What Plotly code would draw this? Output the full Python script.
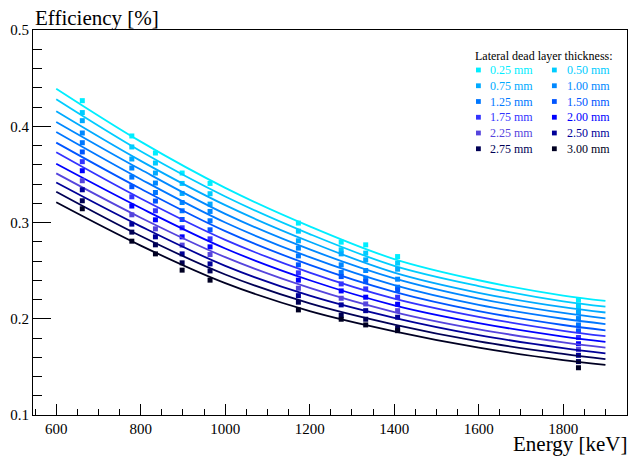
import plotly.graph_objects as go

# Gamma-line energies of the calibration sources [keV]
energies = [661.7, 778.9, 834.8, 898.0, 964.1, 1173.2, 1274.5, 1332.5, 1408.0, 1836.1]

# Lateral dead layer thickness values [mm]
thickness = ["0.25", "0.50", "0.75", "1.00", "1.25", "1.50",
             "1.75", "2.00", "2.25", "2.50", "2.75", "3.00"]

# Simulated full-energy-peak efficiencies, one list per thickness
eff_0p25 = [0.4266, 0.3899, 0.3722, 0.3514, 0.3406, 0.2994, 0.2796, 0.2768, 0.2646, 0.2193]
eff_0p50 = [0.4142, 0.3785, 0.3618, 0.3406, 0.3299, 0.2910, 0.2716, 0.2682, 0.2578, 0.2128]
eff_0p75 = [0.4058, 0.3660, 0.3514, 0.3302, 0.3191, 0.2810, 0.2674, 0.2612, 0.2515, 0.2068]
eff_1p00 = [0.3930, 0.3566, 0.3410, 0.3208, 0.3115, 0.2734, 0.2560, 0.2501, 0.2411, 0.2002]
eff_1p25 = [0.3829, 0.3472, 0.3312, 0.3122, 0.3018, 0.2653, 0.2480, 0.2421, 0.2328, 0.1936]
eff_1p50 = [0.3733, 0.3372, 0.3223, 0.3031, 0.2924, 0.2560, 0.2438, 0.2386, 0.2300, 0.1875]
eff_1p75 = [0.3632, 0.3267, 0.3122, 0.2945, 0.2830, 0.2477, 0.2362, 0.2310, 0.2224, 0.1805]
eff_2p00 = [0.3538, 0.3171, 0.3028, 0.2851, 0.2747, 0.2401, 0.2289, 0.2224, 0.2151, 0.1740]
eff_2p25 = [0.3434, 0.3080, 0.2934, 0.2765, 0.2667, 0.2317, 0.2213, 0.2154, 0.2084, 0.1680]
eff_2p50 = [0.3340, 0.2983, 0.2851, 0.2674, 0.2570, 0.2240, 0.2144, 0.2084, 0.2016, 0.1620]
eff_2p75 = [0.3226, 0.2900, 0.2768, 0.2581, 0.2497, 0.2172, 0.2036, 0.1995, 0.1901, 0.1555]
eff_3p00 = [0.3143, 0.2806, 0.2674, 0.2505, 0.2401, 0.2092, 0.1995, 0.1936, 0.1876, 0.1491]

# Fitted efficiency curves sampled along the energy range
fit_energy = [600, 800, 1000, 1200, 1400, 1600, 1800, 1900]
fit_0p25 = [0.439, 0.384, 0.336, 0.296, 0.262, 0.240, 0.224, 0.2185]
fit_0p50 = [0.428, 0.374, 0.327, 0.288, 0.255, 0.234, 0.218, 0.2125]
fit_0p75 = [0.4155, 0.364, 0.318, 0.280, 0.248, 0.227, 0.212, 0.2065]
fit_1p00 = [0.4045, 0.355, 0.309, 0.272, 0.242, 0.221, 0.206, 0.2005]
fit_1p25 = [0.394, 0.345, 0.300, 0.264, 0.235, 0.2145, 0.200, 0.1945]
fit_1p50 = [0.383, 0.335, 0.291, 0.256, 0.228, 0.208, 0.1935, 0.188]
fit_1p75 = [0.373, 0.325, 0.282, 0.248, 0.221, 0.202, 0.1875, 0.182]
fit_2p00 = [0.361, 0.315, 0.273, 0.240, 0.214, 0.1955, 0.1815, 0.176]
fit_2p25 = [0.351, 0.305, 0.264, 0.232, 0.207, 0.189, 0.1755, 0.170]
fit_2p50 = [0.3415, 0.296, 0.255, 0.224, 0.201, 0.183, 0.1695, 0.164]
fit_2p75 = [0.332, 0.286, 0.246, 0.216, 0.194, 0.1765, 0.1635, 0.158]
fit_3p00 = [0.321, 0.276, 0.237, 0.208, 0.187, 0.170, 0.157, 0.152]

colors = ["#00eeff", "#00ccff", "#00aaff", "#0088ff", "#0077ff", "#0055ff",
          "#3333ff", "#0000ff", "#5544dd", "#000099", "#000055", "#000022"]

points = [eff_0p25, eff_0p50, eff_0p75, eff_1p00, eff_1p25, eff_1p50,
          eff_1p75, eff_2p00, eff_2p25, eff_2p50, eff_2p75, eff_3p00]
fits = [fit_0p25, fit_0p50, fit_0p75, fit_1p00, fit_1p25, fit_1p50,
        fit_1p75, fit_2p00, fit_2p25, fit_2p50, fit_2p75, fit_3p00]

FONT = "Liberation Serif"

fig = go.Figure()
for th, col, pts, fit in zip(thickness, colors, points, fits):
    fig.add_trace(go.Scatter(
        x=fit_energy, y=fit, mode="lines",
        line=dict(color=col, width=1.8, shape="spline", smoothing=1.0),
        showlegend=False, hoverinfo="skip"))
    fig.add_trace(go.Scatter(
        x=energies, y=pts, mode="markers", name=th + " mm",
        marker=dict(symbol="square", size=5, color=col, line=dict(width=0)),
        showlegend=False))

# Two-column legend box in the upper right corner
annotations = [dict(
    text="Lateral dead layer thickness:", xref="paper", yref="paper",
    x=0.741, y=0.932, xanchor="left", yanchor="middle", showarrow=False,
    font=dict(family=FONT, size=12, color="black"))]
shapes = []
W, H = 594.5, 385.0  # plot area size in pixels
for i, (th, col) in enumerate(zip(thickness, colors)):
    row, c = divmod(i, 2)
    ypx = 70 + row * 15.75
    yp = 1 - (ypx - 30) / H
    mx = [478.3, 554.3][c]
    tx = [488.0, 564.5][c]
    xp_m = (mx - 32.5) / W
    shapes.append(dict(type="rect", xref="paper", yref="paper",
                       x0=xp_m - 2.4 / W, x1=xp_m + 2.4 / W,
                       y0=yp - 2.4 / H, y1=yp + 2.4 / H,
                       fillcolor=col, line=dict(width=0)))
    annotations.append(dict(
        text=th + " mm", xref="paper", yref="paper",
        x=(tx - 32.5) / W, y=yp, xanchor="left", yanchor="middle",
        showarrow=False, font=dict(family=FONT, size=12, color=col)))

# Axis titles placed at the axis ends
annotations.append(dict(
    text="Efficiency [%]", xref="paper", yref="paper", x=0.0, y=1.0,
    xanchor="left", yanchor="bottom", yshift=-2, showarrow=False,
    font=dict(family=FONT, size=21, color="black")))
annotations.append(dict(
    text="Energy [keV]", xref="paper", yref="paper", x=1.0, y=0.0,
    xanchor="right", yanchor="top", yshift=-15, xshift=3, showarrow=False,
    font=dict(family=FONT, size=21, color="black")))

fig.update_layout(
    width=632, height=459,
    margin=dict(l=32.5, r=5, t=30, b=44),
    plot_bgcolor="white", paper_bgcolor="white",
    font=dict(family=FONT, size=15, color="black"),
    shapes=shapes, annotations=annotations,
    xaxis=dict(range=[545, 1951], showgrid=False, zeroline=False,
               showline=True, linecolor="black", linewidth=1, mirror=True,
               ticks="inside", ticklen=11.5, tickcolor="black",
               dtick=200, tick0=0, tickfont=dict(family=FONT, size=15),
               minor=dict(ticks="inside", ticklen=5.8, dtick=50,
                          tickcolor="black", showgrid=False)),
    yaxis=dict(range=[0.1, 0.5], showgrid=False, zeroline=False,
               showline=True, linecolor="black", linewidth=1, mirror=True,
               ticks="inside", ticklen=17.8, tickcolor="black",
               dtick=0.1, tick0=0, tickformat=".1f",
               tickfont=dict(family=FONT, size=15),
               minor=dict(ticks="inside", ticklen=8.9, dtick=0.02,
                          tickcolor="black", showgrid=False)),
)

fig.write_html("out.html")
